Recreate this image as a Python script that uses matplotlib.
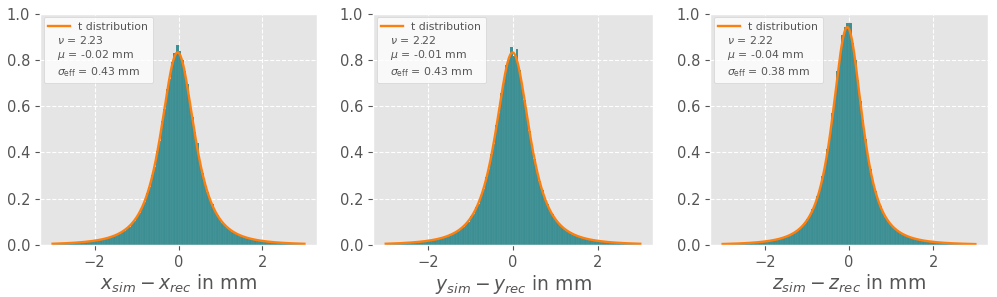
import math
import numpy as np
import matplotlib
matplotlib.use("Agg")
import matplotlib.pyplot as plt
from matplotlib.lines import Line2D

plt.style.use("ggplot")

# histogram: 100 bins between -3 and 3 mm, density values
bin_edges = np.linspace(-3, 3, 101)

x_density = [
    0.0062, 0.0055, 0.0071, 0.0066, 0.0079, 0.0084, 0.0082, 0.0096, 0.0091, 0.0109,
    0.0104, 0.0125, 0.0128, 0.0146, 0.0150, 0.0178, 0.0176, 0.0205, 0.0216, 0.0251,
    0.0262, 0.0309, 0.0322, 0.0375, 0.0392, 0.0462, 0.0491, 0.0578, 0.0625, 0.0741,
    0.0798, 0.0952, 0.1040, 0.1265, 0.1385, 0.1655, 0.1840, 0.2230, 0.2490, 0.3010,
    0.3380, 0.4040, 0.4510, 0.5340, 0.5860, 0.6720, 0.7190, 0.7920, 0.8280, 0.8650,
    0.8380, 0.8010, 0.7520, 0.6940, 0.6180, 0.5520, 0.4860, 0.4400, 0.3620, 0.3120,
    0.2720, 0.2310, 0.1990, 0.1760, 0.1460, 0.1310, 0.1140, 0.0950, 0.0880, 0.0740,
    0.0680, 0.0570, 0.0530, 0.0480, 0.0410, 0.0380, 0.0330, 0.0310, 0.0290, 0.0240,
    0.0230, 0.0210, 0.0200, 0.0170, 0.0165, 0.0140, 0.0138, 0.0120, 0.0117, 0.0103,
    0.0098, 0.0094, 0.0085, 0.0081, 0.0079, 0.0070, 0.0067, 0.0060, 0.0059, 0.0054,
]
y_density = [
    0.0056, 0.0061, 0.0063, 0.0070, 0.0073, 0.0081, 0.0083, 0.0092, 0.0094, 0.0105,
    0.0107, 0.0121, 0.0125, 0.0142, 0.0146, 0.0170, 0.0176, 0.0201, 0.0210, 0.0243,
    0.0258, 0.0304, 0.0318, 0.0366, 0.0387, 0.0458, 0.0482, 0.0566, 0.0608, 0.0721,
    0.0785, 0.0925, 0.1015, 0.1235, 0.1350, 0.1630, 0.1790, 0.2170, 0.2430, 0.2930,
    0.3290, 0.3920, 0.4380, 0.5170, 0.5720, 0.6550, 0.7050, 0.7790, 0.8020, 0.8570,
    0.8150, 0.8450, 0.7570, 0.6970, 0.6280, 0.5600, 0.4910, 0.4300, 0.3710, 0.3190,
    0.2760, 0.2380, 0.2040, 0.1770, 0.1520, 0.1330, 0.1150, 0.1010, 0.0880, 0.0780,
    0.0680, 0.0610, 0.0540, 0.0480, 0.0430, 0.0385, 0.0345, 0.0315, 0.0285, 0.0260,
    0.0235, 0.0212, 0.0193, 0.0178, 0.0165, 0.0151, 0.0137, 0.0127, 0.0118, 0.0110,
    0.0103, 0.0096, 0.0090, 0.0084, 0.0078, 0.0073, 0.0068, 0.0064, 0.0060, 0.0056,
]
z_density = [
    0.0050, 0.0054, 0.0055, 0.0061, 0.0060, 0.0068, 0.0069, 0.0078, 0.0077, 0.0090,
    0.0090, 0.0104, 0.0105, 0.0121, 0.0122, 0.0143, 0.0145, 0.0170, 0.0175, 0.0205,
    0.0212, 0.0255, 0.0262, 0.0312, 0.0330, 0.0395, 0.0410, 0.0498, 0.0528, 0.0640,
    0.0695, 0.0840, 0.0920, 0.1140, 0.1240, 0.1540, 0.1710, 0.2130, 0.2400, 0.2960,
    0.3360, 0.4150, 0.4700, 0.5700, 0.6400, 0.7500, 0.8150, 0.9050, 0.9430, 0.9580,
    0.9600, 0.8720, 0.8000, 0.7120, 0.6220, 0.5400, 0.4580, 0.3860, 0.3300, 0.2760,
    0.2340, 0.1970, 0.1680, 0.1430, 0.1230, 0.1050, 0.0910, 0.0790, 0.0690, 0.0600,
    0.0530, 0.0465, 0.0415, 0.0365, 0.0332, 0.0295, 0.0263, 0.0242, 0.0212, 0.0192,
    0.0177, 0.0158, 0.0146, 0.0132, 0.0123, 0.0112, 0.0106, 0.0096, 0.0091, 0.0083,
    0.0079, 0.0072, 0.0069, 0.0063, 0.0062, 0.0057, 0.0056, 0.0051, 0.0050, 0.0046,
]

# fitted t distribution parameters (from the legends)
coords = ["x", "y", "z"]
nu_fit = [2.23, 2.22, 2.22]
mu_fit = [-0.02, -0.01, -0.04]
sigma_fit = [0.43, 0.43, 0.38]

hist_color = "#3b8e92"
fit_color = "#ff7f0e"
text_color = "#555555"


def t_pdf(x, nu, mu, sigma):
    """Student t density with location mu and scale sigma."""
    z = (x - mu) / sigma
    norm = math.gamma((nu + 1) / 2) / (math.gamma(nu / 2) * math.sqrt(nu * math.pi) * sigma)
    return norm * (1 + z ** 2 / nu) ** (-(nu + 1) / 2)


fig = plt.figure(figsize=(9.97, 2.97), dpi=100)

# axes extents in pixels (left, right)
extents = [(40, 317), (373, 653), (710, 988)]
densities = [x_density, y_density, z_density]
bin_centers = 0.5 * (bin_edges[:-1] + bin_edges[1:])
x_fit = np.linspace(-3, 3, 400)

for k, (left, right) in enumerate(extents):
    ax = fig.add_axes([left / 997, 52 / 297, (right - left) / 997, 231.5 / 297])
    ax.hist(bin_centers, bins=bin_edges, weights=densities[k], color=hist_color,
            edgecolor=(0.93, 0.93, 0.93, 0.12), linewidth=0.3)
    line, = ax.plot(x_fit, t_pdf(x_fit, nu_fit[k], mu_fit[k], sigma_fit[k]),
                    color=fit_color, lw=1.7)

    ax.set_xlim(-3.3, 3.3)
    ax.set_ylim(0, 1.0)
    ax.set_yticks([0.0, 0.2, 0.4, 0.6, 0.8, 1.0])
    ax.set_xticks([-2, 0, 2])
    ax.grid(True, linestyle="--", color="white", linewidth=0.8)
    ax.tick_params(labelsize=10.5, colors=text_color)
    c = coords[k]
    ax.set_xlabel(rf"${c}_{{sim}} - {c}_{{rec}}$ in mm", fontsize=13.5,
                  color=text_color, labelpad=2)

    blank = Line2D([], [], linestyle="none")
    labels = [
        "t distribution",
        rf"$\nu$ = {nu_fit[k]:.2f}",
        rf"$\mu$ = {mu_fit[k]:.2f} mm",
        rf"$\sigma_\mathrm{{eff}}$ = {sigma_fit[k]:.2f} mm",
    ]
    leg = ax.legend([line, blank, blank, blank], labels, loc="upper left",
                    fontsize=7.8, facecolor="white", framealpha=0.8,
                    labelspacing=0.22, borderaxespad=0.35, labelcolor=text_color)
    # pull the parameter lines in, so they sit under the line handle
    rows = leg._legend_handle_box.get_children()[0].get_children()
    for row in rows[1:]:
        row.get_children()[0].width = 0

fig.savefig("out.png", dpi=100)
